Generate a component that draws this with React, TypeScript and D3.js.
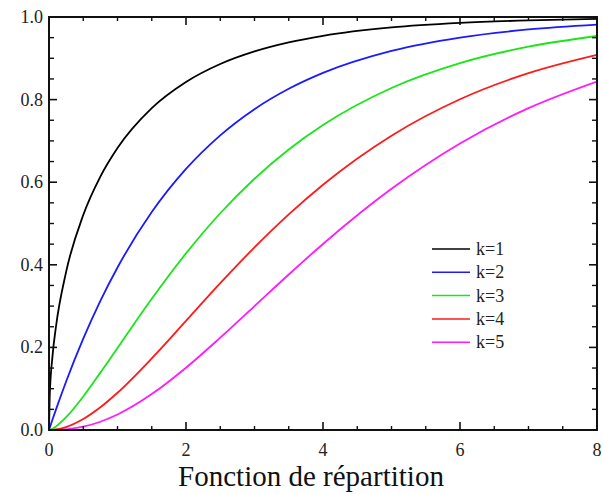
import React from "react";
import * as d3 from "d3";

const xs = [0, 0.01, 0.05, 0.1, 0.25, 0.5, 0.75, 1, 1.5, 2, 2.5, 3, 3.5, 4, 5, 6, 7, 8];
const k1 = [0, 0.0797, 0.177, 0.2482, 0.3829, 0.5205, 0.6135, 0.6827, 0.7793, 0.8427, 0.8862, 0.9167, 0.9386, 0.9545, 0.9747, 0.9857, 0.9918, 0.9953];
const k2 = [0, 0.005, 0.0247, 0.0488, 0.1175, 0.2212, 0.3127, 0.3935, 0.5276, 0.6321, 0.7135, 0.7769, 0.8262, 0.8647, 0.9179, 0.9502, 0.9698, 0.9817];
const k3 = [0, 0.0003, 0.0028, 0.0082, 0.0309, 0.0811, 0.1389, 0.1987, 0.3177, 0.4276, 0.5248, 0.6084, 0.6792, 0.7385, 0.8282, 0.8884, 0.9281, 0.954];
const k4 = [0, 0.0, 0.0003, 0.0012, 0.0072, 0.0265, 0.0550, 0.0902, 0.1734, 0.2642, 0.3554, 0.4422, 0.5221, 0.594, 0.7127, 0.8009, 0.8641, 0.9084];
const k5 = [0, 0.0, 0.0, 0.0001, 0.0016, 0.0079, 0.0200, 0.0374, 0.0869, 0.1508, 0.2236, 0.3, 0.3765, 0.4505, 0.5841, 0.6938, 0.7794, 0.8438];

const seriesNames = ["k=1", "k=2", "k=3", "k=4", "k=5"];
const seriesValues = [k1, k2, k3, k4, k5];
const colors = ["#000000", "#1a1aff", "#19e619", "#ff1a1a", "#ff1aff"];

const xMajor = [0, 2, 4, 6, 8];
const yMajor = [0, 0.2, 0.4, 0.6, 0.8, 1.0];
const title = "Fonction de répartition";

export default function App() {
  const W = 603, H = 494;
  const left = 49, right = 597, top = 17, bottom = 430;
  const x = d3.scaleLinear().domain([0, 8]).range([left, right]);
  const y = d3.scaleLinear().domain([0, 1]).range([bottom, top]);
  const line = d3
    .line<number>()
    .x((_, i) => x(xs[i]))
    .y((d) => y(d))
    .curve(d3.curveMonotoneX);

  const xMinor = d3.range(0, 8.001, 0.5).filter((v) => !xMajor.some((m) => Math.abs(m - v) < 1e-6));
  const yMinor = d3.range(0, 1.0001, 0.05).filter((v) => !yMajor.some((m) => Math.abs(m - v) < 1e-6));
  const serif = { fontFamily: "'Liberation Serif', 'Times New Roman', Times, serif" };

  return (
    <svg width={W} height={H} style={{ position: "absolute", left: 0, top: 0, background: "#fff" }}>
      <rect x={0} y={0} width={W} height={H} fill="#fff" />
      <defs>
        <clipPath id="plot">
          <rect x={left} y={top - 2} width={right - left} height={bottom - top + 2} />
        </clipPath>
      </defs>
      <g clipPath="url(#plot)">
        {seriesValues.map((vals, i) => (
          <path key={i} d={line(vals) || ""} fill="none" stroke={colors[i]} strokeWidth={1.8} />
        ))}
      </g>
      <rect x={left} y={top} width={right - left} height={bottom - top} fill="none" stroke="#111" strokeWidth={2} />
      {xMajor.map((v) => (
        <g key={"xm" + v}>
          <line x1={x(v)} x2={x(v)} y1={bottom} y2={bottom - 8} stroke="#111" strokeWidth={1.6} />
          <line x1={x(v)} x2={x(v)} y1={top} y2={top + 8} stroke="#111" strokeWidth={1.6} />
          <text x={x(v)} y={456} textAnchor="middle" style={serif} fontSize={18} fill="#222">
            {v}
          </text>
        </g>
      ))}
      {xMinor.map((v) => (
        <g key={"xn" + v}>
          <line x1={x(v)} x2={x(v)} y1={bottom} y2={bottom - 4} stroke="#111" strokeWidth={1.4} />
          <line x1={x(v)} x2={x(v)} y1={top} y2={top + 4} stroke="#111" strokeWidth={1.4} />
        </g>
      ))}
      {yMajor.map((v) => (
        <g key={"ym" + v}>
          <line x1={left} x2={left + 8} y1={y(v)} y2={y(v)} stroke="#111" strokeWidth={1.6} />
          <line x1={right} x2={right - 8} y1={y(v)} y2={y(v)} stroke="#111" strokeWidth={1.6} />
          <text x={43} y={y(v) + 6} textAnchor="end" style={serif} fontSize={18} fill="#222">
            {v.toFixed(1)}
          </text>
        </g>
      ))}
      {yMinor.map((v) => (
        <g key={"yn" + v}>
          <line x1={left} x2={left + 5} y1={y(v)} y2={y(v)} stroke="#111" strokeWidth={1.4} />
          <line x1={right} x2={right - 5} y1={y(v)} y2={y(v)} stroke="#111" strokeWidth={1.4} />
        </g>
      ))}
      {seriesNames.map((name, i) => {
        const ly = 249 + i * 23.3;
        return (
          <g key={name}>
            <line x1={432} x2={470} y1={ly} y2={ly} stroke={colors[i]} strokeWidth={1.5} />
            <text x={476} y={ly + 6} style={serif} fontSize={18} fill="#222">
              {name}
            </text>
          </g>
        );
      })}
      <text x={311} y={486} textAnchor="middle" style={serif} fontSize={29} fill="#111">
        {title}
      </text>
    </svg>
  );
}
